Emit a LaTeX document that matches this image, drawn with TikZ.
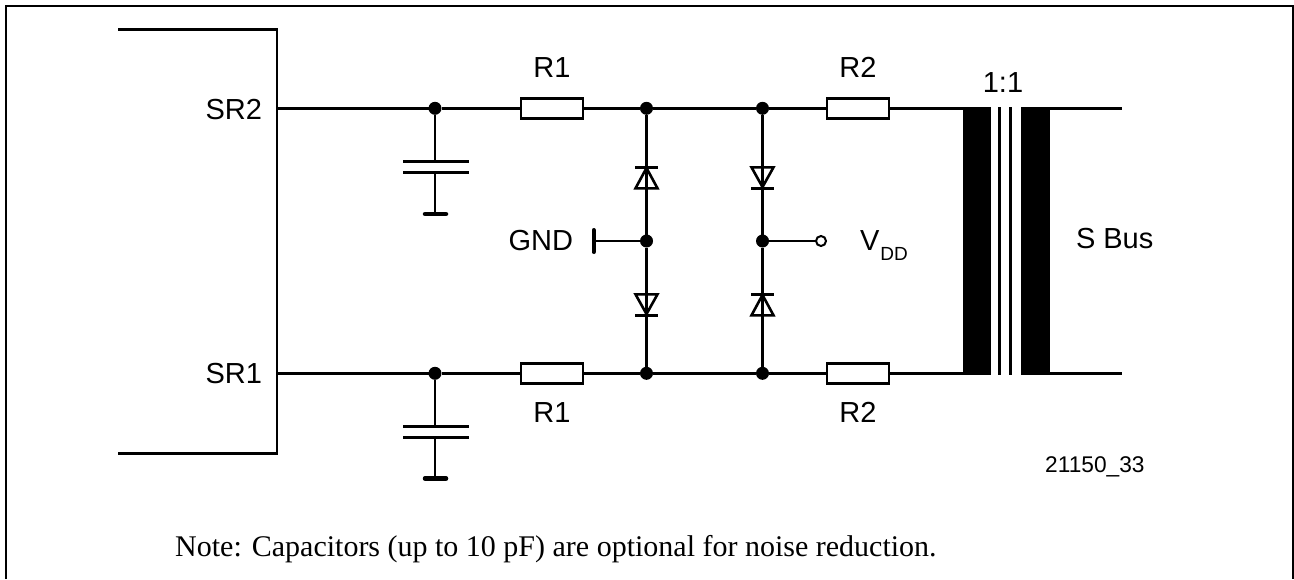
\documentclass[tikz,border=0pt]{standalone}
\usepackage{fontspec}
\setmainfont{Liberation Sans}
\newfontfamily\notefont{Liberation Serif}
\begin{document}
\begin{tikzpicture}[x=1pt,y=-1pt,
  wire/.style={line width=2.6pt,line cap=butt},
  frameline/.style={line width=2.6pt},
  res/.style={draw,line width=2.6pt,fill=white,minimum width=62pt,minimum height=20pt,inner sep=0pt,outer sep=0pt},
  dot/.style={circle,fill=black,minimum size=13pt,inner sep=0pt,outer sep=0pt},
  opendot/.style={circle,draw,line width=2pt,fill=white,minimum size=10pt,inner sep=0pt,outer sep=0pt},
  lab/.style={font=\fontsize{29}{32}\selectfont,inner sep=0pt,outer sep=0pt},
  plate/.style={line width=2.6pt},
  gbar/.style={line width=4.5pt,line cap=round},
  core/.style={draw=none,fill=black},
  diode/.style={line width=2.6pt,line join=miter}]
\useasboundingbox (0,0) rectangle (1294,579);
% frame
\coordinate (f1) at (6,579); \coordinate (f2) at (6,6); \coordinate (f3) at (1293,6); \coordinate (f4) at (1293,579);
\draw[frameline] (f1) -- (f2) -- (f3) -- (f4);
% block
\coordinate (b1) at (118,29.3); \coordinate (b2) at (277,29.3); \coordinate (b3) at (277,453.3); \coordinate (b4) at (118,453.3);
\draw[frameline] (b1) -- (b2) -- (b3) -- (b4);
\coordinate (pt) at (277,108.3); \coordinate (pb) at (277,373.3);
% nodes
\node[dot] (c1) at (435,108.3) {};
\node[dot] (c2) at (435,373.3) {};
\node[res] (r1t) at (552,108.3) {};
\node[res] (r1b) at (552,373.3) {};
\node[dot] (d1t) at (646.5,108.3) {};
\node[dot] (d2t) at (762.5,108.3) {};
\node[dot] (d1m) at (646.5,241) {};
\node[dot] (d2m) at (762.5,241) {};
\node[dot] (d1b) at (646.5,373.3) {};
\node[dot] (d2b) at (762.5,373.3) {};
\node[res] (r2t) at (858,108.3) {};
\node[res] (r2b) at (858,373.3) {};
\node[opendot] (vdd) at (821,241) {};
% transformer
\path[core] (962.5,107) rectangle (991,374.6);
\path[core] (1020.5,107) rectangle (1049.5,374.6);
\coordinate (tl1) at (963,108.3); \coordinate (tl2) at (963,373.3);
\coordinate (tr1) at (1049,108.3); \coordinate (tr2) at (1049,373.3);
\coordinate (o1) at (1122,108.3); \coordinate (o2) at (1122,373.3);
\coordinate (k1a) at (999.7,107); \coordinate (k1b) at (999.7,374.6);
\coordinate (k2a) at (1010.7,107); \coordinate (k2b) at (1010.7,374.6);
\draw[line width=2.6pt] (k1a) -- (k1b);
\draw[line width=2.6pt] (k2a) -- (k2b);
% wires
\foreach \a/\b in {pt/c1,c1/r1t,r1t/d1t,d1t/d2t,d2t/r2t,r2t/tl1,tr1/o1,pb/c2,c2/r1b,r1b/d1b,d1b/d2b,d2b/r2b,r2b/tl2,tr2/o2,d2m/vdd}
  \draw[wire] (\a) -- (\b);
\foreach \a/\b in {d1t/d1m,d1m/d1b,d2t/d2m,d2m/d2b}
  \draw[wire] (\a) -- (\b);
% diodes
\draw[diode] (635,167.3) -- (658,167.3);
\draw[diode] (646.5,168) -- (635.5,188.3) -- (657.5,188.3) -- cycle;
\draw[diode] (635,315.3) -- (658,315.3);
\draw[diode] (646.5,314) -- (635.5,294.3) -- (657.5,294.3) -- cycle;
\draw[diode] (751,188.3) -- (774,188.3);
\draw[diode] (762.5,187) -- (751.5,167.3) -- (773.5,167.3) -- cycle;
\draw[diode] (751,294.3) -- (774,294.3);
\draw[diode] (762.5,295) -- (751.5,315.3) -- (773.5,315.3) -- cycle;
% GND
\coordinate (gw) at (593.7,241);
\draw[wire] (d1m) -- (gw);
\draw[line width=4pt,line cap=round] (593.7,230) -- (593.7,252);
% capacitors
\coordinate (cp1) at (435,161.3); \coordinate (cp2) at (435,172.3); \coordinate (cg1) at (435,214);
\draw[wire] (c1) -- (cp1); \draw[wire] (cp2) -- (cg1);
\draw[plate] (403,161.3) -- (468.5,161.3); \draw[plate] (403,172.3) -- (468.5,172.3);
\draw[gbar] (425,214) -- (446,214);
\coordinate (cp3) at (435,426.3); \coordinate (cp4) at (435,437.3); \coordinate (cg2) at (435,478.5);
\draw[wire] (c2) -- (cp3); \draw[wire] (cp4) -- (cg2);
\draw[plate] (403,426.3) -- (468.5,426.3); \draw[plate] (403,437.3) -- (468.5,437.3);
\draw[gbar] (425,478.5) -- (446,478.5);
% labels
\node[lab,anchor=base east] (tsr2) at (262,119) {SR2};
\node[lab,anchor=base east] (tsr1) at (262,383.5) {SR1};
\node[lab,anchor=base] (tr1t) at (552,77) {R1};
\node[lab,anchor=base] (tr1b) at (552,422) {R1};
\node[lab,anchor=base] (tr2t) at (858,77) {R2};
\node[lab,anchor=base] (tr2b) at (858,422) {R2};
\node[lab,anchor=base east] (tgnd) at (573,250) {GND};
\node[lab,anchor=base west] (tvdd) at (860,250.5) {V\kern1pt\raisebox{-10pt}{\fontsize{19}{19}\selectfont DD}};
\node[lab,anchor=base] (tratio) at (1003,92) {1:1};
\node[lab,anchor=base west] (tbus) at (1076,248.5) {S Bus};
\node[font=\fontsize{22.7}{24}\selectfont,inner sep=0pt,anchor=base west] (tid) at (1045,472.7) {21150\_33};
\node[font=\notefont\fontsize{30}{32}\selectfont,inner sep=0pt,anchor=base west] (tnote) at (175,556.7) {Note: Capacitors (up to 10 pF) are optional for noise reduction.};
\end{tikzpicture}
\end{document}
